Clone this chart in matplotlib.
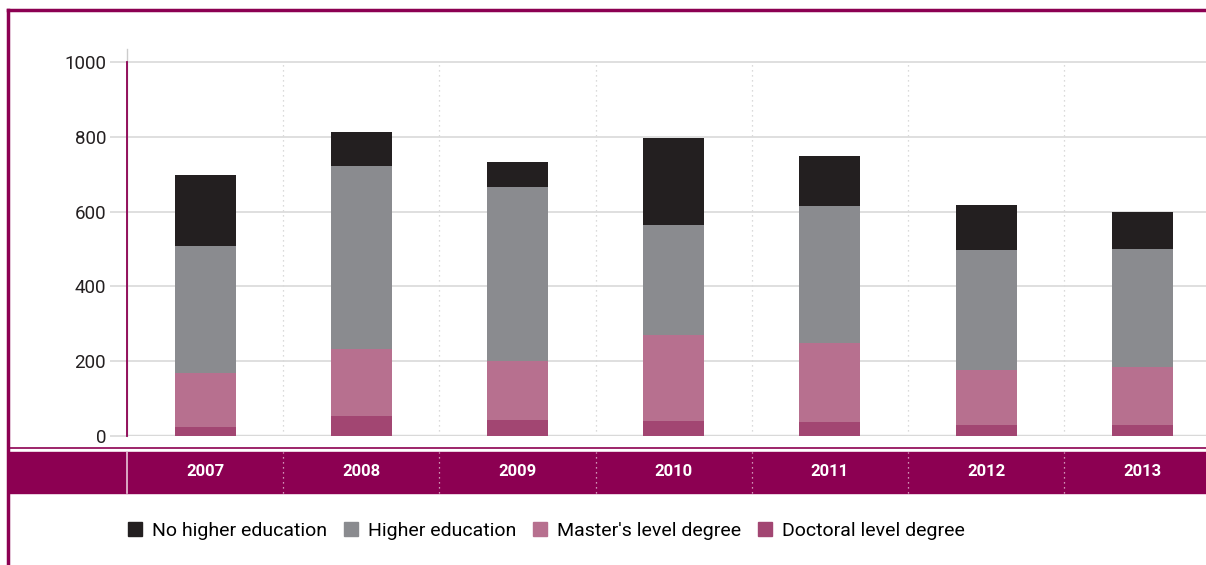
import matplotlib
matplotlib.use("Agg")
import matplotlib.pyplot as plt
import matplotlib.transforms as mtransforms
from matplotlib.lines import Line2D
from matplotlib.patches import Rectangle

# --------------------------------------------------------------------------- #
# Data
# --------------------------------------------------------------------------- #
years = ["2007", "2008", "2009", "2010", "2011", "2012", "2013"]
doctoral = [24, 53, 43, 40, 37, 30, 30]
masters = [144, 180, 157, 230, 212, 147, 155]
higher = [340, 489, 466, 294, 367, 321, 315]
no_higher = [190, 91, 67, 233, 133, 120, 99]

series_names = ["No higher education", "Higher education",
                "Master's level degree", "Doctoral level degree"]
y_ticks = [0, 200, 400, 600, 800, 1000]

COL_NO = "#231f20"
COL_HI = "#8a8b8f"
COL_MA = "#b7708f"
COL_DO = "#a24672"
MAGENTA = "#8c0052"
GRID = "#d9d9d9"

plt.rcParams["font.family"] = ["Roboto", "DejaVu Sans"]

W, H = 1206, 565
STEP = 156.2  # px per category
fig = plt.figure(figsize=(W / 100, H / 100), dpi=100)


def fx(px):
    return px / W


def fy(py):
    return 1 - py / H


# axes: x=-0.5 at px 127; y=0 at px 436, 0.374 px per unit
ax = fig.add_axes([fx(127), fy(436), 1 - fx(127), fy(49) - fy(436)])
ax.set_xlim(-0.5, -0.5 + (W - 127) / STEP)
ax.set_ylim(0, (436 - 49) / 0.374)

x = list(range(len(years)))
bw = 0.39
b1 = doctoral
b2 = [a + b for a, b in zip(b1, masters)]
b3 = [a + b for a, b in zip(b2, higher)]
ax.bar(x, doctoral, bw, color=COL_DO, zorder=3)
ax.bar(x, masters, bw, bottom=b1, color=COL_MA, zorder=3)
ax.bar(x, higher, bw, bottom=b2, color=COL_HI, zorder=3)
ax.bar(x, no_higher, bw, bottom=b3, color=COL_NO, zorder=3)

# grid
ax.set_yticks(y_ticks)
ax.set_yticklabels([str(v) for v in y_ticks], fontsize=13.5, color="#231f20",
                   fontstretch="condensed")
ax.yaxis.grid(True, color=GRID, linewidth=1.2, zorder=0)
ax.tick_params(axis="y", length=12, width=1.2, color=GRID, pad=3)
ax.set_xticks([])
ax.vlines([i + 0.5 for i in x], 0, 1000, color="#cfcfcf", linewidth=0.9,
          linestyle=(0, (1, 3)), zorder=1)
for s in ["top", "right", "bottom"]:
    ax.spines[s].set_visible(False)
ax.spines["left"].set_color("#cccccc")
ax.spines["left"].set_linewidth(1)
ax.plot([-0.5, -0.5], [0, 1000], color=MAGENTA, linewidth=1.3, zorder=4, clip_on=False)
ax.axhline(0, color=GRID, linewidth=2.5, zorder=2)

# band with years
trans = mtransforms.blended_transform_factory(ax.transData, fig.transFigure)
band = Rectangle((fx(8), fy(493)), 1, fy(452) - fy(493),
                 transform=fig.transFigure, color=MAGENTA, zorder=-5)
fig.patches.append(band)
fig.add_artist(Line2D([fx(8), 1], [fy(447.5), fy(447.5)], color=MAGENTA, linewidth=1.2,
                      zorder=-5))
for i, yr in enumerate(years):
    ax.text(i, fy(471), yr, transform=trans, ha="center", va="center", color="white",
            fontsize=12, fontweight="bold", fontstretch="condensed", clip_on=False,
            zorder=10)
    ax.plot([i + 0.5, i + 0.5], [fy(493), fy(452)], transform=trans, color="#e8c6d8",
            linewidth=0.9, linestyle=(0, (1, 3)), clip_on=False, zorder=10)
ax.plot([-0.5, -0.5], [fy(493), fy(452)], transform=trans, color="#e8c6d8",
        linewidth=1.2, clip_on=False, zorder=10)

# border
fig.add_artist(Line2D([fx(8), 1], [fy(10), fy(10)], color=MAGENTA, linewidth=2.5))
fig.add_artist(Line2D([fx(8), fx(8)], [fy(10), 0], color=MAGENTA, linewidth=2.5))

# legend
handles = [Line2D([], [], marker="s", linestyle="none", markersize=10, color=c)
           for c in [COL_NO, COL_HI, COL_MA, COL_DO]]
fig.legend(handles, series_names, loc="center left", bbox_to_anchor=(fx(108), fy(531)),
           ncol=4, frameon=False, fontsize=14, handletextpad=0.35, columnspacing=0.75,
           handlelength=1.0)

fig.savefig("out.png", dpi=100)
